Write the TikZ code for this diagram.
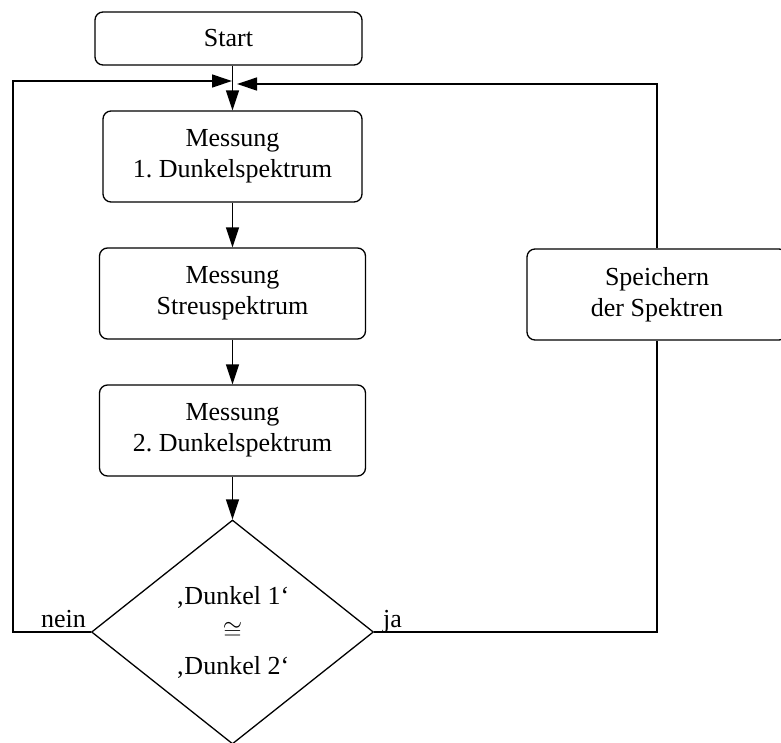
\documentclass[tikz,border=0pt]{standalone}
\usepackage{fontspec}
\setmainfont{Liberation Serif}
\usetikzlibrary{shapes.geometric,arrows.meta}
\begin{document}
\begin{tikzpicture}[x=1pt,y=-1pt,
  every node/.style={font=\fontsize{26}{31}\selectfont},
  box/.style={draw,line width=1.3pt,rounded corners=8pt,align=center,inner sep=0pt},
  dec/.style={draw,diamond,line width=1.3pt,align=center,inner sep=0pt,minimum width=282pt,minimum height=224pt},
  arr/.style={line width=1.3pt,-{Triangle[length=20pt,width=13pt]}},
  ln/.style={line width=1.3pt}]
\useasboundingbox (0,0) rectangle (781,742);
\node[box,minimum width=267pt,minimum height=53pt] (start) at (228.5,38.5) {Start};
\node[box,minimum width=259pt,minimum height=91pt] (b1) at (232.5,156.5) {Messung\\1.\ Dunkelspektrum};
\node[box,minimum width=266pt,minimum height=91pt] (b2) at (232.5,293.5) {Messung\\Streuspektrum};
\node[box,minimum width=266pt,minimum height=91pt] (b3) at (232.5,430.5) {Messung\\2.\ Dunkelspektrum};
\node[dec] (dia) at (232.5,632) {‚Dunkel 1‘\\[4pt]$\cong$\\[4pt]‚Dunkel 2‘};
\node[box,minimum width=260pt,minimum height=91pt] (sp) at (657,294.5) {Speichern\\der Spektren};
\node[anchor=base east,inner sep=0pt] (nein) at (86,627) {nein};
\node[anchor=base west,inner sep=0pt] (ja) at (383,627) {ja};
\coordinate (LT) at (13,81);
\coordinate (jl) at (232,81);
\coordinate (RT) at (657,84);
\coordinate (jr) at (237,84);
\draw[arr] (start.south -| b1.north) -- (b1.north);
\draw[arr] (b1) -- (b2);
\draw[arr] (b2) -- (b3);
\draw[arr] (b3) -- (dia.north);
\draw[arr] (dia.west) -- (dia.west -| LT) -- (LT) -- (jl);
\draw[ln] (dia.east) -- (dia.east -| sp.south) -- (sp.south);
\draw[arr] (sp.north) -- (RT) -- (jr);
\end{tikzpicture}
\end{document}
